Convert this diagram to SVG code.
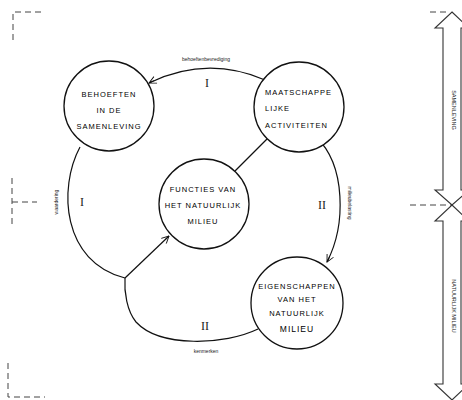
<svg xmlns="http://www.w3.org/2000/svg" width="462" height="400" viewBox="0 0 462 400">
  <style>
    .node circle { fill: #fff; stroke: #111; stroke-width: 1.3; }
    .node text { font-family: "Liberation Sans", Arial, sans-serif; font-size: 7.5px; letter-spacing: 1px; fill: #000; text-anchor: middle; }
    .edge { fill: none; stroke: #111; stroke-width: 1.2; }
    .lbl { font-family: "Liberation Sans", Arial, sans-serif; font-size: 5px; fill: #222; text-anchor: middle; }
    .num { font-family: "Liberation Serif", "Times New Roman", serif; font-size: 12px; fill: #222; text-anchor: middle; }
    .dash { fill: none; stroke: #444; stroke-width: 1; stroke-dasharray: 6 4; }
    .band { fill: #fff; stroke: #333; stroke-width: 1.1; }
  </style>
  <defs>
    <marker id="open" viewBox="0 0 10 10" refX="9" refY="5" markerWidth="9" markerHeight="9" orient="auto" markerUnits="userSpaceOnUse">
      <path d="M1 1 L9 5 L1 9 M3 5 L9 5" fill="none" stroke="#111" stroke-width="1"/>
    </marker>
  </defs>

  <!-- frame marks -->
  <g id="frame">
    <path class="dash" d="M13 40 L13 12 L43 12"/>
    <path class="dash" d="M12 178 L12 227 M12 202 L37 202"/>
    <path class="dash" d="M8 363 L8 397 L45 397"/>
    <path class="dash" d="M430 12 L448 12"/>
    <path class="dash" d="M410 205 L452 205"/>
  </g>

  <!-- connectors -->
  <g id="connectors">
    <path class="edge" d="M265 80 Q207 55 149 83" marker-end="url(#open)"/>
    <path class="edge" d="M268 138 L235 171"/>
    <path class="edge" d="M316 137 C346 165 346 225 327 262" marker-end="url(#open)"/>
    <path class="edge" d="M80 147 C58 188 62 262 125 278"/>
    <path class="edge" d="M125 278 L169 236" marker-end="url(#open)"/>
    <path class="edge" d="M258 329 C225 345 160 348 136 322 C127 311 124 292 125 278"/>
    <text class="lbl" x="206" y="61">behoeftenbevrediging</text>
    <text class="num" x="207" y="87">I</text>
    <text class="lbl" transform="translate(58 202) rotate(-90)">waardering</text>
    <text class="num" x="82" y="206">I</text>
    <text class="lbl" transform="translate(348 203) rotate(90)">milieubelasting</text>
    <text class="num" x="322" y="209">II</text>
    <text class="num" x="205" y="330">II</text>
    <text class="lbl" x="206" y="353">kenmerken</text>
  </g>

  <g id="behoeften" class="node">
    <circle cx="109" cy="106" r="45"/>
    <text x="109" y="97">BEHOEFTEN</text>
    <text x="109" y="113">IN DE</text>
    <text x="109" y="129">SAMENLEVING</text>
  </g>

  <g id="activiteiten" class="node">
    <circle cx="299" cy="107" r="45"/>
    <text x="265" y="95" style="text-anchor:start">MAATSCHAPPE</text>
    <text x="265" y="111" style="text-anchor:start">LIJKE</text>
    <text x="265" y="128" style="text-anchor:start">ACTIVITEITEN</text>
  </g>

  <g id="functies" class="node">
    <circle cx="204" cy="204" r="45"/>
    <text x="203" y="192">FUNCTIES VAN</text>
    <text x="203" y="208">HET NATUURLIJK</text>
    <text x="203" y="224">MILIEU</text>
  </g>

  <g id="eigenschappen" class="node">
    <circle cx="297" cy="303" r="46"/>
    <text x="297" y="289">EIGENSCHAPPEN</text>
    <text x="297" y="302">VAN HET</text>
    <text x="297" y="316">NATUURLIJK</text>
    <text x="297" y="332" style="font-size:8.5px">MILIEU</text>
  </g>

  <!-- scale arrows along the right edge -->
  <g id="schaal-samenleving">
    <polygon class="band" points="452,12 469,28 461,28 461,190 469,190 452,205 435,190 443,190 443,28 435,28"/>
    <text class="lbl" transform="translate(452 110) rotate(90)" style="font-size:5.5px">SAMENLEVING</text>
  </g>
  <g id="schaal-milieu">
    <polygon class="band" points="452,205 469,221 461,221 461,384 469,384 452,400 435,384 443,384 443,221 435,221"/>
    <text class="lbl" transform="translate(452 306) rotate(90)" style="font-size:5.5px">NATUURLIJK MILIEU</text>
  </g>
</svg>
